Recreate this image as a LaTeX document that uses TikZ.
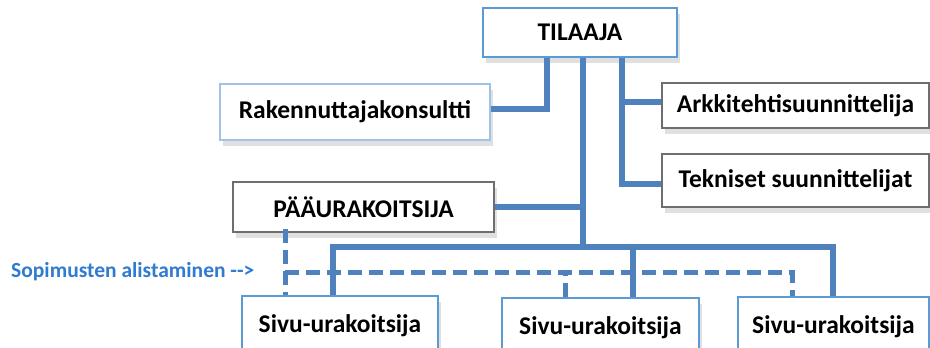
\documentclass[tikz,border=0pt]{standalone}
\usepackage{fontspec}
\setmainfont{Carlito}
\usetikzlibrary{shadows}
\definecolor{linkblue}{RGB}{79,129,189}
\definecolor{edgeblue}{RGB}{91,155,213}
\definecolor{paleblue}{RGB}{157,195,230}
\definecolor{edgegray}{RGB}{110,110,110}
\definecolor{notetext}{RGB}{47,123,208}
\tikzset{
  x=1pt, y=-1pt,
  orgbox/.style={draw, fill=white, line width=1.4pt, inner sep=0pt,
    font=\fontsize{25.5}{29}\selectfont\bfseries,
    drop shadow={shadow xshift=3pt, shadow yshift=-6pt, opacity=0.12, fill=black}},
  bluebox/.style={orgbox, draw=edgeblue},
  palebox/.style={orgbox, draw=paleblue, line width=2pt},
  graybox/.style={orgbox, draw=edgegray, line width=1.2pt},
  conn/.style={draw=linkblue, line width=6pt},
  dconn/.style={draw=linkblue, line width=5pt, dash pattern=on 14pt off 7pt},
  note/.style={text=notetext, inner sep=0pt, anchor=west,
    font=\fontsize{21.5}{25}\selectfont\bfseries}
}
\begin{document}
\begin{tikzpicture}
\clip (0,0) rectangle (930,348);
\fill[white] (0,0) rectangle (930,348);

% boxes of the organisation chart
\node[bluebox, minimum width=194pt, minimum height=49pt] (til) at (580,32.5) {TILAAJA};
\node[palebox, minimum width=270pt, minimum height=56pt] (rak) at (355,112) {Rakennuttajakonsultti};
\node[graybox, minimum width=267pt, minimum height=45pt] (ark) at (795.5,105.5) {Arkkitehtisuunnittelija};
\node[graybox, minimum width=267pt, minimum height=53pt] (tek) at (795.5,180.5) {Tekniset suunnittelijat};
\node[graybox, minimum width=261pt, minimum height=50pt] (paa) at (363.5,207) {PÄÄURAKOITSIJA};
\node[bluebox, minimum width=196pt, minimum height=60pt] (s1) at (340,326) {Sivu-urakoitsija};
\node[bluebox, minimum width=197pt, minimum height=60pt] (s2) at (600.5,328) {Sivu-urakoitsija};
\node[bluebox, minimum width=191pt, minimum height=60pt] (s3) at (833.5,327) {Sivu-urakoitsija};

\node[note] (sop) at (11,272) {Sopimusten alistaminen {-}{-}>};

% junction points of the connectors
\coordinate (jn) at (583,247);
\coordinate (rb) at (622,177);
\coordinate (dh) at (285,272);

% solid reporting lines
\draw[conn] ([xshift=-33pt]til.south) |- ([yshift=3pt]rak.east);
\draw[conn] (til.south -| jn) -- (jn);
\draw[conn] (paa.east) -- (paa.east -| jn);
\draw[conn] (til.south -| rb) |- ([yshift=-3.5pt]tek.west);
\draw[conn] ([yshift=3.5pt]ark.west -| rb) -- ([yshift=3.5pt]ark.west);
\draw[conn] ([xshift=-7pt]s1.north) -- ([xshift=-7pt]s1.north |- jn) -| ([xshift=-0.5pt]s3.north);
\draw[conn] ([xshift=32.5pt]s2.north) -- ([xshift=32.5pt]s2.north |- jn);

% dashed subcontracting lines
\draw[dconn] ([xshift=-78.5pt,yshift=4pt]paa.south) -- ([xshift=-78.5pt]paa.south |- s1.north);
\draw[dconn] (dh) -| ([xshift=-41.5pt]s3.north);
\draw[dconn] ([xshift=-35.5pt]s2.north) -- ([xshift=-35.5pt]s2.north |- dh);
\end{tikzpicture}
\end{document}
